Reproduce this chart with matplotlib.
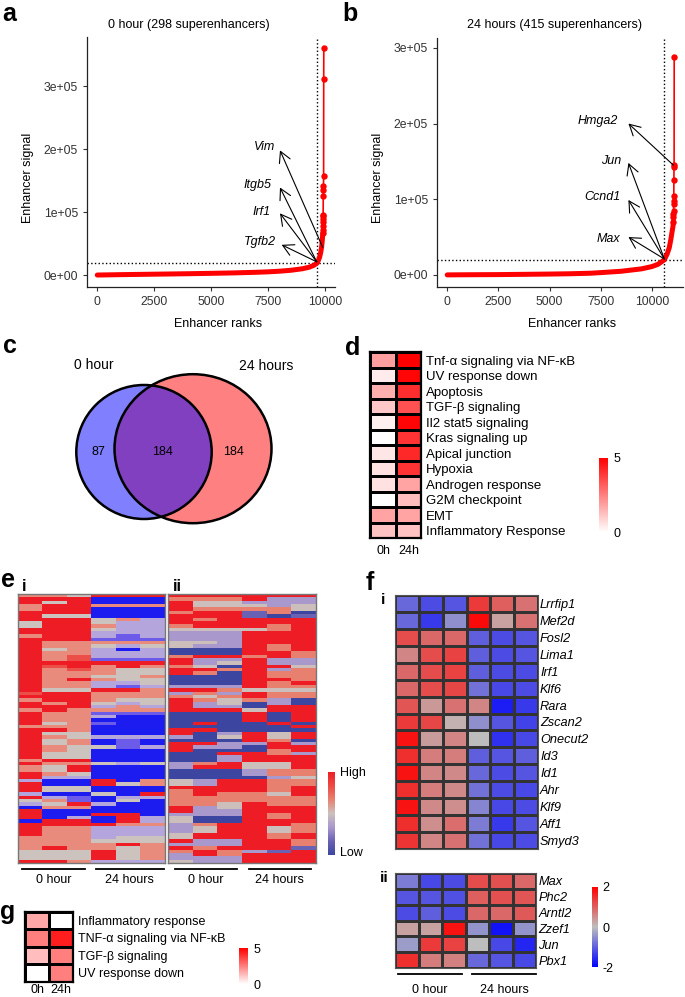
import numpy as np
import matplotlib
matplotlib.use('Agg')
import matplotlib.pyplot as plt
from matplotlib.colors import LinearSegmentedColormap
from matplotlib.patches import Ellipse
from matplotlib.ticker import FuncFormatter

plt.rcParams['font.family'] = ['Liberation Sans', 'DejaVu Sans']
plt.rcParams['axes.unicode_minus'] = False

# ---- data ----
# panel a : 0 hour enhancer ranks
a_rank = [0, 1000, 2000, 3000, 4000, 5000, 6000, 7000, 7500, 8000, 8500, 9000, 9300, 9500, 9636, 9700, 9750, 9800, 9840, 9870, 9886]
a_signal = [0, 600, 1100, 1600, 2100, 2700, 3400, 4400, 5100, 6100, 7600, 10000, 12500, 15500, 19000, 23500, 28500, 36000, 45000, 56000, 66000]
a_top_rank = [9888, 9890, 9893, 9896, 9900, 9905, 9910, 9915, 9920, 9926, 9930, 9934]
a_top_signal = [72000, 78000, 84000, 89000, 93000, 96000, 125000, 135000, 142000, 157000, 311000, 361000]
a_cut = (9636, 19000)
a_genes = [('Vim', 7794, 204000, 8013, 198000, 9886, 44000),
           ('Itgb5', 7649, 143000, 8013, 139000, 9623, 21000),
           ('Irf1', 7605, 99500, 8013, 98000, 9623, 21000),
           ('Tgfb2', 7838, 52000, 8086, 48000, 9623, 21000)]

# panel b : 24 hours enhancer ranks
b_rank = [0, 1000, 2500, 4000, 5000, 6000, 7000, 7500, 8500, 9500, 10000, 10300, 10610, 10750, 10850, 10920, 10980, 11030, 11050]
b_signal = [0, 200, 400, 800, 1100, 1500, 2200, 3000, 4800, 8000, 11000, 14000, 20000, 28000, 36000, 46000, 56000, 64000, 70000]
b_top_rank = [11052, 11055, 11058, 11062, 11066, 11070, 11075, 11080, 11085, 11090]
b_top_signal = [76000, 80000, 84000, 94000, 97000, 104000, 126000, 143000, 145000, 288000]
b_cut = (10610, 20000)
b_genes = [('Hmga2', 8364, 203000, 8853, 200000, 11050, 145000),
           ('Jun', 8496, 150000, 8853, 148000, 10610, 21000),
           ('Ccnd1', 8447, 103000, 8853, 99000, 10610, 21000),
           ('Max', 8447, 48000, 8853, 50000, 10610, 21000)]

# panel c : venn
venn_sets = ['0 hour', '24 hours']
venn_counts = [87, 184, 184]

# panel d : hallmark enrichment
d_terms = ['Tnf-α signaling via NF-κB', 'UV response down', 'Apoptosis', 'TGF-β signaling',
           'Il2 stat5 signaling', 'Kras signaling up', 'Apical junction', 'Hypoxia',
           'Androgen response', 'G2M checkpoint', 'EMT', 'Inflammatory Response']
d_0h = [1.9, 0.4, 1.6, 1.1, 0.3, 0.05, 0.5, 0.6, 0.6, 0.0, 1.8, 1.2]
d_24h = [5.0, 4.9, 4.1, 3.4, 4.9, 4.0, 4.2, 4.0, 1.8, 1.3, 1.8, 1.2]

# panel e : row-scaled signal, B=-2 b l g s r R=+2
e_i_rows = ["ssgRRR", "RRRBBB", "RgRBBB", "sRRsss", "sRRBBB", "RRRBBB", "RggBBB", "RRRgsl", "gRRgll", "gRRsll",
            "RRRgll", "RRRlll", "sRRlbl", "RRRbbb", "Rsssss", "Rssglg", "RgslBl", "Rsslll", "Rsrlll", "Rsrbbb",
            "RRRRRR", "RrRsRs", "Rsrsgg", "Rsssgg", "Rssggs", "RsRsgg", "Rssllg", "Rsslbl", "RggRRs", "rRRsss",
            "RRRsss", "sRRsgg", "RsRglg", "RRRlsl", "sRssss", "Rssbbb", "RsslBB", "RssBBB", "RgsbBB", "sssBBB",
            "RRsBBB", "RggBBB", "Rsglll", "RgsBbB", "RgsBbB", "Rsggbl", "RsgBBB", "RggBBB", "RggBBB", "sRRBBB",
            "Rssglg", "sgRBBB", "sgRBBB", "RsgBBB", "RllBBB", "lBBRBs", "RBBRgs", "RggBBB", "RggBBB", "lBBgBR",
            "RlbBll", "gsbBgB", "lgRlBB", "BssBBB", "RBBBBB", "RBBRRB", "RBlBRl", "BRRBRl", "RRRRss", "Rsslll",
            "Rsslll", "Rsslll", "ssslgg", "sssggg", "ssssRs", "sRssgs", "gggRgs", "gggRgs", "gggRgs", "RRslll"]
e_ii_rows = ["RRRRRR", "sssRll", "Rgglll", "Rggglg", "Rssssg", "sRRbsB", "RRRbBb", "RsRRRR", "RRRRRR", "sRRRsR",
             "ggggsR", "lllRRR", "lllRRR", "lllRRR", "gglRRR", "gllRsR", "BBBRsR", "BBBRRs", "sRRsRs", "RllRll",
             "RlgRll", "sgBRRg", "RRsRls", "RsBRss", "BBBRss", "BBBRRs", "BBBRsR", "lllRss", "RRsggg", "lslRss",
             "sgsRss", "RsgslB", "RlgBlB", "RllBRR", "RRRgRR", "BBBRBR", "BBBRBR", "BBBRBR", "BRBBRB", "BBBBBR",
             "RRBBBB", "RBlRgR", "lBgRgR", "BBBRsB", "RRllRl", "RllBRR", "RBBBsR", "BBRRsl", "BBlRRR", "BBlRRR",
             "lsRggR", "lRRggR", "BBBlss", "BBBlss", "BBBBlg", "glRRss", "glRRss", "RRRRsR", "sRRRsR", "sRssgR",
             "ssssss", "ssssss", "ssgRss", "RlgRRR", "RllRRR", "lllRsR", "gBBRsR", "gBBRRR", "lsRRRs", "lgRRgs",
             "lgRRgs", "gRRRsR", "gRRRsR", "RllRRs", "lllRRs", "RsRRRb", "sRslbR", "lRsRRR", "lllRRR", "gllRRR"]
e_level = {'B': -2, 'b': -4 / 3, 'l': -2 / 3, 'g': 0, 's': 2 / 3, 'r': 4 / 3, 'R': 2}
e_groups = ['0 hour', '24 hours']

# panel f : transcription factors (z-scores)
f_i_genes = ['Lrrfip1', 'Mef2d', 'Fosl2', 'Lima1', 'Irf1', 'Klf6', 'Rara', 'Zscan2',
             'Onecut2', 'Id3', 'Id1', 'Ahr', 'Klf9', 'Aff1', 'Smyd3']
f_i_vals = [[-0.9, -1.2, -1.1, 1.4, 1.0, 0.8],
            [-0.9, -1.4, -0.5, 1.9, 0.3, 0.8],
            [1.2, 0.9, 0.9, -1.0, -1.2, -1.1],
            [0.6, 1.2, 1.3, -1.0, -1.2, -1.1],
            [0.9, 1.2, 1.3, -1.0, -1.2, -1.2],
            [0.9, 1.2, 1.25, -0.8, -1.25, -1.2],
            [1.1, 0.4, 0.8, 0.6, -1.7, -1.4],
            [1.4, 1.25, 0.15, -0.5, -1.1, -1.3],
            [1.8, 0.35, 0.6, 0.0, -1.5, -1.25],
            [1.5, 0.7, 0.7, -1.0, -1.1, -1.0],
            [1.8, 0.6, 0.55, -0.9, -1.2, -1.1],
            [1.5, 0.7, 0.55, -0.8, -1.2, -1.25],
            [1.8, 0.55, 0.5, -0.6, -1.25, -1.2],
            [1.5, 0.5, 0.85, -0.7, -1.4, -1.1],
            [1.45, 0.6, 0.8, -0.8, -1.25, -1.2]]
f_ii_genes = ['Max', 'Phc2', 'Arntl2', 'Zzef1', 'Jun', 'Pbx1']
f_ii_vals = [[-0.7, -1.25, -1.2, 1.2, 1.15, 0.9],
             [-1.1, -1.1, -1.15, 1.0, 1.15, 1.1],
             [-1.2, -1.0, -1.2, 0.9, 0.9, 1.05],
             [0.3, 0.3, 1.8, -0.45, -1.8, -0.45],
             [-0.35, 1.4, 1.3, 0.0, -1.25, -1.6],
             [1.5, 0.7, 0.65, -0.9, -1.1, -1.25]]

# panel g
g_terms = ['Inflammatory response', 'TNF-α signaling via NF-κB', 'TGF-β signaling', 'UV response down']
g_0h = [1.7, 2.5, 1.3, 0.0]
g_24h = [0.0, 4.4, 2.5, 2.5]
time_labels = ['0h', '24h']

# ---- figure ----
W, H = 685, 997
fig = plt.figure(figsize=(W / 100, H / 100), dpi=100)


def px_axes(x0, y0, x1, y1):
    return fig.add_axes([x0 / W, 1 - y1 / H, (x1 - x0) / W, (y1 - y0) / H])


def enhancer_panel(box, rank, sig, top_rank, top_sig, cut, genes, xlim, ylim):
    ax = px_axes(*box)
    ax.plot(rank, sig, color='red', lw=3.6, solid_capstyle='round', zorder=3)
    ax.plot([rank[-1]] + top_rank, [sig[-1]] + top_sig, color='red', lw=1.2,
            marker='o', ms=3.6, zorder=3)
    ax.axvline(cut[0], color='black', ls=':', lw=1)
    ax.axhline(cut[1], color='black', ls=':', lw=1)
    for name, tx, ty, hx, hy, sx, sy in genes:
        ax.annotate('', xy=(hx, hy), xytext=(sx, sy),
                    arrowprops=dict(arrowstyle='->,head_length=0.55,head_width=0.3',
                                    lw=0.8, color='black', shrinkA=0, shrinkB=0,
                                    mutation_scale=14), zorder=4)
        ax.text(tx, ty, name, ha='right', va='center', style='italic', fontsize=9)
    ax.set_xlim(*xlim)
    ax.set_ylim(*ylim)
    ax.set_xticks([0, 2500, 5000, 7500, 10000])
    ax.set_yticks([0, 1e5, 2e5, 3e5])
    ax.yaxis.set_major_formatter(FuncFormatter(lambda v, p: '{:.0e}'.format(v)))
    for s in ['top', 'right']:
        ax.spines[s].set_visible(False)
    for s in ['left', 'bottom']:
        ax.spines[s].set_color('#222222')
        ax.spines[s].set_linewidth(0.9)
    ax.tick_params(labelsize=8.8, colors='#333333', length=3, width=0.8)
    return ax


enhancer_panel((87, 37, 335, 287), a_rank, a_signal, a_top_rank, a_top_signal, a_cut, a_genes,
               (-450, 10425), (-19000, 378000))
enhancer_panel((437, 38, 683, 287), b_rank, b_signal, b_top_rank, b_top_signal, b_cut, b_genes,
               (-500, 11520), (-16000, 313000))

# heat maps with white -> red scale (d, g)
wr = LinearSegmentedColormap.from_list('wr', ['#ffffff', '#ff0000'])


def term_heatmap(box, v0, v1, terms, cbox, xpad, fs):
    ax = px_axes(*box)
    m = ax.pcolormesh(np.array([v0, v1]).T, cmap=wr, vmin=0, vmax=5,
                      edgecolors='black', linewidth=1.0)
    ax.set_ylim(len(terms), 0)
    ax.set_yticks(np.arange(len(terms)) + 0.5)
    ax.set_yticklabels(terms)
    ax.set_xticks([0.5, 1.5])
    ax.set_xticklabels(time_labels)
    ax.yaxis.tick_right()
    ax.tick_params(length=0, labelsize=fs, pad=3.5)
    ax.tick_params(axis='x', pad=xpad, labelsize=9)
    for s in ax.spines.values():
        s.set_linewidth(1.6)
    cax = px_axes(*cbox)
    cb = fig.colorbar(m, cax=cax, ticks=[0, 5])
    cb.outline.set_visible(False)
    cb.ax.tick_params(length=0, labelsize=9, pad=4)
    return ax


term_heatmap((370.3, 352.3, 421.4, 538.3), d_0h, d_24h, d_terms, (599, 457.7, 607.9, 532.3), 5, 9.5)
term_heatmap((24.9, 911.7, 73.4, 981.7), g_0h, g_24h, g_terms, (239.3, 948.3, 248, 984), 1.5, 9)

# panel e
cm_ei = LinearSegmentedColormap.from_list('ei', ['#1c1cf0', '#6c5ce8', '#b4a6dc', '#ccc4c0',
                                                  '#e88a7c', '#ec5048', '#ee1c24'])
cm_eii = LinearSegmentedColormap.from_list('eii', ['#3c46a0', '#6a62b4', '#a898cc', '#ccc0bc',
                                                    '#e88070', '#ec4a44', '#ee1c24'])
for rows, cm, box in [(e_i_rows, cm_ei, (18.3, 594.3, 164.6, 863.3)),
                      (e_ii_rows, cm_eii, (168.2, 594.3, 315.5, 863.3))]:
    mat = np.array([[e_level[c] for c in r] for r in rows])
    ax = px_axes(*box)
    im = ax.imshow(mat, cmap=cm, vmin=-2, vmax=2, aspect='auto', interpolation='nearest')
    ax.set_xticks([])
    ax.set_yticks([])
    for s in ax.spines.values():
        s.set_color('#777777')
        s.set_linewidth(1.0)
ecax = px_axes(327.5, 771.7, 335.4, 855)
ecb = fig.colorbar(im, cax=ecax, ticks=[])
ecb.outline.set_visible(False)

# panel f
bgr = LinearSegmentedColormap.from_list('bgr', ['#0000ff', '#bebebe', '#ff0000'])


def tf_heatmap(box, vals, genes):
    ax = px_axes(*box)
    m = ax.pcolormesh(np.array(vals), cmap=bgr, vmin=-2, vmax=2,
                      edgecolors='#333333', linewidth=0.8)
    ax.set_ylim(len(genes), 0)
    ax.set_yticks(np.arange(len(genes)) + 0.5)
    ax.set_yticklabels(genes, style='italic')
    ax.set_xticks([])
    ax.yaxis.tick_right()
    ax.tick_params(length=0, labelsize=9.2, pad=1.5)
    for s in ax.spines.values():
        s.set_color('#555555')
        s.set_linewidth(0.8)
    return m


tf_heatmap((395, 595, 538, 849), f_i_vals, f_i_genes)
fm = tf_heatmap((395.2, 872.7, 536.2, 968.3), f_ii_vals, f_ii_genes)
fcax = px_axes(591.7, 886.7, 598.3, 967.3)
fcb = fig.colorbar(fm, cax=fcax, ticks=[-2, 0, 2])
fcb.outline.set_visible(False)
fcb.ax.tick_params(length=0, labelsize=9, pad=3)

# ---- overlay for text, venn and brackets (pixel coordinates) ----
ov = fig.add_axes([0, 0, 1, 1])
ov.set_xlim(0, W)
ov.set_ylim(H, 0)
ov.axis('off')

# panel letters
for lab, x, y in [('a', 2, 21), ('b', 342, 21), ('c', 3, 353), ('d', 345, 355),
                  ('e', 1, 587), ('f', 366, 590), ('g', 0, 919)]:
    ov.text(x, y, lab, fontsize=18, fontweight='bold', ha='left', va='baseline')
for lab, x, y, fs in [('i', 22, 591, 12), ('ii', 173, 591, 12), ('i', 381, 604, 11), ('ii', 380, 882, 11)]:
    ov.text(x, y, lab, fontsize=fs, fontweight='bold', ha='left', va='baseline')

# a/b titles and axis labels
ov.text(189, 25, '0 hour (298 superenhancers)', fontsize=9, ha='center', va='center')
ov.text(555, 25, '24 hours (415 superenhancers)', fontsize=9, ha='center', va='center')
for x in [218, 572]:
    ov.text(x, 324, 'Enhancer ranks', fontsize=9, ha='center', va='center')
for x in [28, 378]:
    ov.text(x, 178, 'Enhancer signal', fontsize=9, ha='center', va='center', rotation=90)

# venn
red = Ellipse((193, 448.7), 157, 149, facecolor='#ff8080', edgecolor='none')
blue = Ellipse((144, 452), 135.4, 134, facecolor='#8080ff', edgecolor='none')
ov.add_patch(red)
ov.add_patch(blue)
mid = Ellipse((193, 448.7), 157, 149, facecolor='#8040c0', edgecolor='none')
ov.add_patch(mid)
mid.set_clip_path(blue)
for e in [Ellipse((193, 448.7), 157, 149), Ellipse((144, 452), 135.4, 134)]:
    e.set_facecolor('none')
    e.set_edgecolor('black')
    e.set_linewidth(1.8)
    ov.add_patch(e)
ov.text(94, 365, venn_sets[0], fontsize=10, ha='center', va='center')
ov.text(266, 366, venn_sets[1], fontsize=10, ha='center', va='center')
for x, n in zip([98.3, 162.9, 233.6], venn_counts):
    ov.text(x, 452, str(n), fontsize=9, ha='center', va='center')

# e colour key
ov.text(340, 773, 'High', fontsize=9, ha='left', va='center')
ov.text(340, 853, 'Low', fontsize=9, ha='left', va='center')

# group brackets
for (x0, x1), lab in zip([(21.8, 85.2), (96, 163.8), (174.7, 237.1), (248.9, 310.9)],
                         e_groups * 2):
    ov.plot([x0, x1], [869.3, 869.3], color='black', lw=1.3)
    ov.text((x0 + x1) / 2, 879.5, lab, fontsize=9, ha='center', va='center')
for (x0, x1), lab in zip([(398, 461.6), (472.5, 535.8)], e_groups):
    ov.plot([x0, x1], [974, 974], color='black', lw=1.3)
    ov.text((x0 + x1) / 2, 990, lab, fontsize=9, ha='center', va='center')

fig.savefig('out.png', dpi=100)
